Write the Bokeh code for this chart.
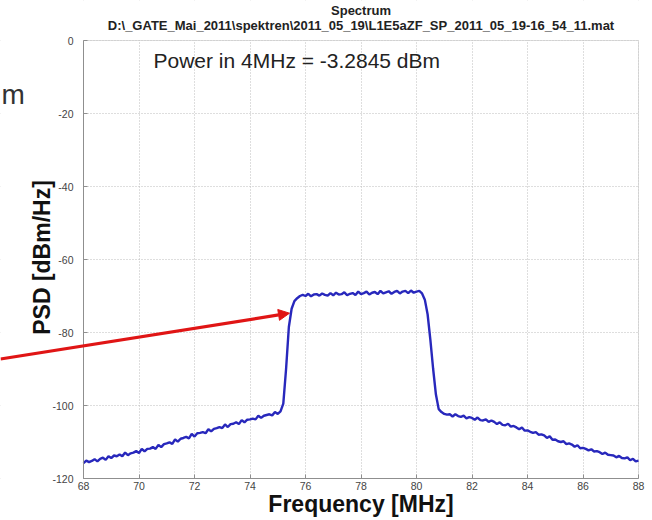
import math
from bokeh.plotting import figure
from bokeh.models import Range1d, Label, Arrow, NormalHead, FixedTicker, BoxAnnotation
from bokeh.embed import file_html
from bokeh.resources import INLINE

# ---------------- data ----------------
freq_mhz = [
    68.0, 68.1, 68.2, 68.3, 68.4, 68.5, 68.6, 68.7, 68.8, 68.9,
    69.0, 69.1, 69.2, 69.3, 69.4, 69.5, 69.6, 69.7, 69.8, 69.9,
    70.0, 70.1, 70.2, 70.3, 70.4, 70.5, 70.6, 70.7, 70.8, 70.9,
    71.0, 71.1, 71.2, 71.3, 71.4, 71.5, 71.6, 71.7, 71.8, 71.9,
    72.0, 72.1, 72.2, 72.3, 72.4, 72.5, 72.6, 72.7, 72.8, 72.9,
    73.0, 73.1, 73.2, 73.3, 73.4, 73.5, 73.6, 73.7, 73.8, 73.9,
    74.0, 74.1, 74.2, 74.3, 74.4, 74.5, 74.6, 74.7, 74.8, 74.9,
    75.0, 75.1, 75.2, 75.3, 75.4, 75.5, 75.6, 75.7, 75.8, 75.9,
    76.0, 76.1, 76.2, 76.3, 76.4, 76.5, 76.6, 76.7, 76.8, 76.9,
    77.0, 77.1, 77.2, 77.3, 77.4, 77.5, 77.6, 77.7, 77.8, 77.9,
    78.0, 78.1, 78.2, 78.3, 78.4, 78.5, 78.6, 78.7, 78.8, 78.9,
    79.0, 79.1, 79.2, 79.3, 79.4, 79.5, 79.6, 79.7, 79.8, 79.9,
    80.0, 80.1, 80.2, 80.3, 80.4, 80.5, 80.6, 80.7, 80.8, 80.9,
    81.0, 81.1, 81.2, 81.3, 81.4, 81.5, 81.6, 81.7, 81.8, 81.9,
    82.0, 82.1, 82.2, 82.3, 82.4, 82.5, 82.6, 82.7, 82.8, 82.9,
    83.0, 83.1, 83.2, 83.3, 83.4, 83.5, 83.6, 83.7, 83.8, 83.9,
    84.0, 84.1, 84.2, 84.3, 84.4, 84.5, 84.6, 84.7, 84.8, 84.9,
    85.0, 85.1, 85.2, 85.3, 85.4, 85.5, 85.6, 85.7, 85.8, 85.9,
    86.0, 86.1, 86.2, 86.3, 86.4, 86.5, 86.6, 86.7, 86.8, 86.9,
    87.0, 87.1, 87.2, 87.3, 87.4, 87.5, 87.6, 87.7, 87.8, 87.9,
    88.0,
]
psd_dbm_hz = [
    -115.8, -115.1, -115.5, -115.2, -114.7, -115.3, -114.6, -114.3, -114.9, -113.9,
    -114.4, -113.7, -113.9, -113.4, -113.9, -112.9, -113.6, -113.1, -112.9, -112.5,
    -113.0, -111.9, -112.6, -111.9, -111.8, -111.4, -111.9, -110.8, -111.4, -110.6,
    -110.4, -110.1, -110.5, -109.3, -109.9, -109.1, -108.9, -108.6, -109.0, -107.8,
    -108.5, -107.6, -107.5, -107.3, -107.6, -106.5, -107.1, -106.4, -106.2, -105.9,
    -106.2, -105.2, -105.9, -105.1, -105.0, -104.6, -105.1, -104.0, -104.6, -103.9,
    -103.8, -103.6, -103.8, -102.8, -103.4, -102.8, -102.6, -102.4, -102.7, -101.8,
    -102.3, -101.6, -99.5, -90.0, -78.5, -73.5, -71.4, -70.6, -70.0, -69.7,
    -70.0, -69.4, -70.1, -69.6, -69.5, -69.9, -69.3, -69.7, -69.9, -69.2,
    -69.8, -69.1, -69.6, -69.5, -69.0, -69.8, -69.4, -69.2, -69.7, -68.8,
    -69.5, -69.2, -68.8, -69.6, -69.1, -68.9, -69.5, -68.6, -69.3, -69.0,
    -68.7, -69.4, -68.9, -68.6, -69.3, -68.8, -68.6, -69.2, -68.5, -69.1,
    -68.8, -68.6, -69.3, -71.0, -75.0, -82.0, -90.0, -97.0, -101.0, -101.8,
    -102.3, -102.5, -102.4, -103.0, -102.4, -102.9, -103.1, -102.8, -103.5, -103.2,
    -103.4, -103.9, -103.3, -104.0, -104.1, -103.8, -104.5, -104.1, -104.5, -105.1,
    -104.6, -105.3, -105.4, -105.0, -105.8, -105.6, -106.0, -106.5, -106.0, -106.9,
    -106.8, -107.2, -107.5, -107.3, -108.0, -107.9, -108.2, -108.9, -108.4, -109.4,
    -109.3, -109.8, -110.0, -109.8, -110.6, -110.4, -110.7, -111.3, -110.9, -111.7,
    -111.6, -111.9, -112.3, -112.0, -112.6, -112.5, -112.8, -113.3, -112.9, -113.5,
    -113.6, -113.7, -114.2, -113.8, -114.4, -114.5, -114.2, -115.0, -114.6, -115.3,
    -115.1,
]
x_ticks = [68, 70, 72, 74, 76, 78, 80, 82, 84, 86, 88]
y_ticks = [-120, -100, -80, -60, -40, -20, 0]
y_tick_text = ["-120", "-100", "-80", "-60", "-40", "-20", "0"]
x_min, x_max = 68, 88
y_min, y_max = -120, 0

title_main = "Spectrum"
title_path = "D:\\_GATE_Mai_2011\\spektren\\2011_05_19\\L1E5aZF_SP_2011_05_19-16_54_11.mat"
power_text = "Power in 4MHz = -3.2845 dBm"
x_label = "Frequency [MHz]"
y_label = "PSD [dBm/Hz]"

FONT = "Liberation Sans"
FRAME_COL = "#8f8f8f"

# Page geometry: the axes box sits at x 83..638 px, y 40..478 px of the 652x520 page.
# The drawing frame covers the whole page so that the slide's arrow and the
# cut-off "m" (both left of the axes) can be drawn; axes are pinned to the box.
W, H = 652, 520
BOX_L, BOX_R, BOX_T, BOX_B = 83, 638, 40, 478
px_per_x = (BOX_R - BOX_L) / (x_max - x_min)
px_per_y = (BOX_B - BOX_T) / (y_max - y_min)
xr = Range1d(x_min - BOX_L / px_per_x, x_max + (W - BOX_R) / px_per_x)
yr = Range1d(y_min - (H - BOX_B) / px_per_y, y_max + BOX_T / px_per_y)

def px_x(cx):
    return x_min + (cx - BOX_L) / px_per_x

def px_y(cy):
    return y_max - (cy - BOX_T) / px_per_y

p = figure(width=W, height=H, output_backend="svg", toolbar_location=None,
           x_range=xr, y_range=yr,
           min_border_left=0, min_border_right=0, min_border_top=0, min_border_bottom=0,
           background_fill_color="white", border_fill_color="white")
p.title = None
p.outline_line_color = None

def style_axis(ax):
    ax.major_tick_in = 4
    ax.major_tick_out = 0
    ax.minor_tick_in = 0
    ax.minor_tick_out = 0
    ax.axis_line_color = FRAME_COL
    ax.major_tick_line_color = FRAME_COL
    ax.major_label_text_font = FONT
    ax.major_label_text_font_size = "10.5px"
    ax.major_label_text_color = "#444444"

xax = p.xaxis[0]
yax = p.yaxis[0]
style_axis(xax)
style_axis(yax)
xax.fixed_location = y_min
xax.bounds = (x_min, x_max)
yax.fixed_location = x_min
yax.bounds = (y_min, y_max)
xax.ticker = FixedTicker(ticks=x_ticks)
yax.ticker = FixedTicker(ticks=y_ticks)
yax.major_label_overrides = {t: s for t, s in zip(y_ticks, y_tick_text)}
xax.major_label_standoff = 3
yax.major_label_standoff = 10

p.grid.grid_line_color = "#bdbdbd"
p.grid.grid_line_dash = "1 2"
p.grid.grid_line_width = 1
p.xgrid.ticker = FixedTicker(ticks=x_ticks)
p.ygrid.ticker = FixedTicker(ticks=y_ticks)

# keep the grid inside the axes box
for kw in (dict(right=x_min), dict(left=x_max), dict(bottom=y_max), dict(top=y_min)):
    p.add_layout(BoxAnnotation(fill_color="white", fill_alpha=1.0, line_color=None,
                               level="underlay", **kw))
# the axes box
p.add_layout(BoxAnnotation(left=x_min, right=x_max, bottom=y_min, top=y_max,
                           fill_alpha=0.0, line_color=FRAME_COL, line_width=1,
                           level="underlay"))

p.line(freq_mhz, psd_dbm_hz, line_color="#2828bc", line_width=2.4)

def text(x, y, s, size, bold=False, color="#222222", align="left",
         baseline="middle", angle=0.0):
    p.add_layout(Label(x=x, y=y, text=s, text_font=FONT, text_font_size=size,
                       text_font_style="bold" if bold else "normal",
                       text_color=color, text_align=align, text_baseline=baseline,
                       angle=angle))

mid_x = (x_min + x_max) / 2
text(mid_x, px_y(10), title_main, "13px", bold=True, align="center")
text(mid_x, px_y(25), title_path, "13px", bold=True, align="center")
text(px_x(153), px_y(60), power_text, "21px")
text(mid_x, px_y(503), x_label, "23px", bold=True, color="#111111", align="center")
text(px_x(41), px_y(257), y_label, "23px", bold=True, color="#111111", align="center",
     angle=math.pi / 2)
# fragment of the slide text left of the chart
text(px_x(1), px_y(94), "m", "28px", color="#333333", baseline="alphabetic")

p.add_layout(Arrow(end=NormalHead(size=11, fill_color="#e01515", line_color="#e01515"),
                   x_start=px_x(0), y_start=px_y(358.5), x_end=px_x(289), y_end=px_y(312.7),
                   line_color="#e01515", line_width=3.2))

open("out.html", "w").write(file_html(p, INLINE))
